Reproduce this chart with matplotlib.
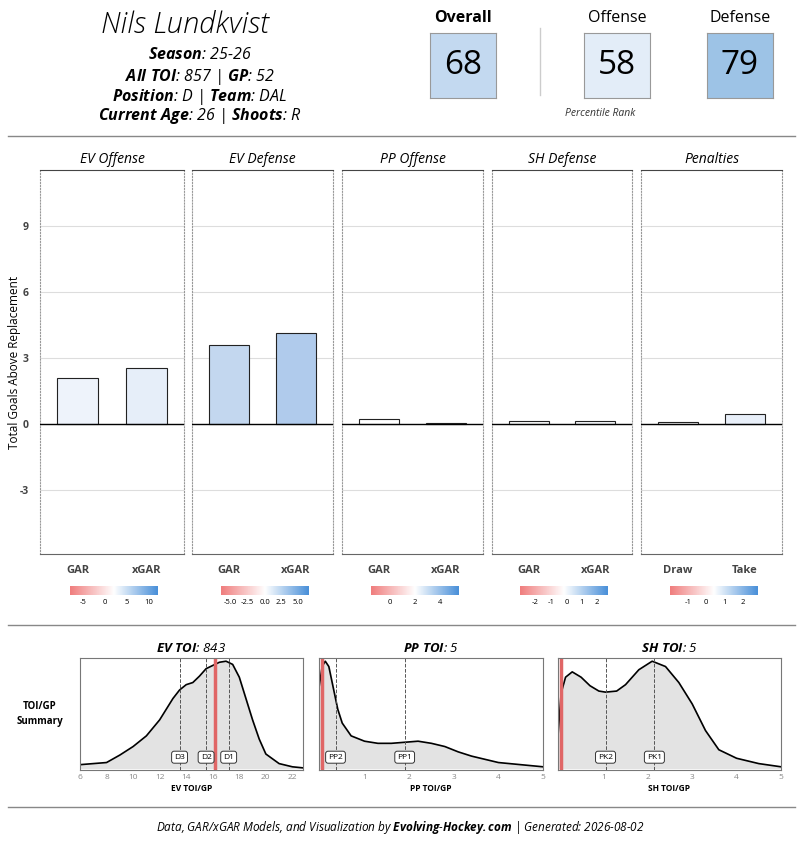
import matplotlib.pyplot as plt
import numpy as np
from matplotlib.colors import LinearSegmentedColormap

plt.rcParams['font.family'] = ['Open Sans', 'DejaVu Sans']
plt.rcParams['mathtext.fontset'] = 'custom'
plt.rcParams['mathtext.bf'] = 'Open Sans:bold:italic'
plt.rcParams['mathtext.rm'] = 'Open Sans:italic'
plt.rcParams['mathtext.it'] = 'Open Sans:italic'

# ---- data ----
panels = ['EV Offense', 'EV Defense', 'PP Offense', 'SH Defense', 'Penalties']
bar_labels = [['GAR', 'xGAR']] * 4 + [['Draw', 'Take']]
bar_values = [[2.1, 2.55], [3.6, 4.15], [0.25, 0.05], [0.15, 0.15], [0.1, 0.45]]
bar_colors = [['#eef3fb', '#e6eef9'], ['#c3d7ef', '#b0cbec'], ['#ffffff', '#ffffff'],
              ['#fafbfd', '#f6f8fc'], ['#fbfbfd', '#e8eff9']]
cbar_ticks = [[-5, 0, 5, 10], [-5.0, -2.5, 0.0, 2.5, 5.0], [0, 2, 4], [-2, -1, 0, 1, 2], [-1, 0, 1, 2]]
cbar_ranges = [(-8, 12), (-6.5, 6.5), (-1.5, 5.5), (-3, 2.7), (-2, 2.8)]
cbar_fmt = ['{:g}', '{:.1f}', '{:g}', '{:g}', '{:g}']

ranks = [('Overall', 68, '#c3d9f0'), ('Offense', 58, '#e3edf8'), ('Defense', 79, '#9dc3e6')]

ev_x = [6, 7, 8, 9, 10, 11, 12, 13, 13.5, 14, 14.5, 15, 15.5, 16, 16.5, 17, 17.5, 18, 18.5, 19, 19.5, 20, 21, 22, 22.8]
ev_y = [0.03, 0.04, 0.05, 0.12, 0.2, 0.3, 0.45, 0.65, 0.73, 0.78, 0.8, 0.86, 0.93, 0.96, 0.99, 1.0, 0.97, 0.85, 0.65, 0.45, 0.27, 0.13, 0.04, 0.01, 0.0]
pp_x = [-0.02, 0.05, 0.12, 0.2, 0.3, 0.4, 0.5, 0.7, 1.0, 1.3, 1.6, 1.9, 2.2, 2.5, 2.8, 3.1, 3.4, 3.7, 4.0, 4.5, 5.0]
pp_y = [0.75, 0.95, 1.0, 0.95, 0.75, 0.55, 0.42, 0.3, 0.25, 0.23, 0.23, 0.24, 0.25, 0.23, 0.2, 0.15, 0.11, 0.08, 0.05, 0.03, 0.01]
sh_x = [-0.02, 0.05, 0.15, 0.3, 0.5, 0.7, 0.9, 1.05, 1.3, 1.5, 1.8, 2.1, 2.4, 2.7, 3.0, 3.3, 3.6, 4.0, 4.5, 5.0]
sh_y = [0.3, 0.7, 0.85, 0.9, 0.85, 0.77, 0.72, 0.71, 0.72, 0.78, 0.92, 1.0, 0.95, 0.8, 0.6, 0.35, 0.17, 0.09, 0.04, 0.01]

dens = [
    ('EV TOI', 843, ev_x, ev_y, (6, 22.8), [6, 8, 10, 12, 14, 16, 18, 20, 22], 16.2,
     [('D3', 13.5), ('D2', 15.5), ('D1', 17.2)], 'EV TOI/GP'),
    ('PP TOI', 5, pp_x, pp_y, (-0.02, 5), [1, 2, 3, 4, 5], 0.05,
     [('PP2', 0.35), ('PP1', 1.9)], 'PP TOI/GP'),
    ('SH TOI', 5, sh_x, sh_y, (-0.02, 5), [1, 2, 3, 4, 5], 0.05,
     [('PK2', 1.05), ('PK1', 2.15)], 'SH TOI/GP'),
]

W, H = 800, 850
fig = plt.figure(figsize=(8, 8.5), dpi=100)


def ax_px(x0, y0, x1, y1):
    return fig.add_axes([x0 / W, 1 - y1 / H, (x1 - x0) / W, (y1 - y0) / H])


def bold(s):
    return r'$\bf{' + s.replace(' ', r'\ ') + '}$'


# ---- header ----
fig.text(185 / W, 1 - 25 / H, 'Nils Lundkvist', ha='center', va='center', fontsize=21, style='italic', fontweight='light')
hdr = [(55, [('Season', ': 25-26')]),
       (77, [('All TOI', ': 857 | '), ('GP', ': 52')]),
       (97, [('Position', ': D | '), ('Team', ': DAL')]),
       (116, [('Current Age', ': 26 | '), ('Shoots', ': R')])]
for y, parts in hdr:
    s = ''.join(bold(b) + t for b, t in parts)
    fig.text(200 / W, 1 - y / H, s, ha='center', va='center', fontsize=11.5, style='italic')

for (name, val, col), x0 in zip(ranks, [430, 584, 707]):
    a = ax_px(x0, 33, x0 + 66, 98)
    a.set_facecolor(col)
    a.set_xticks([]); a.set_yticks([])
    for s in a.spines.values():
        s.set_color('#999999')
    a.text(0.5, 0.5, str(val), ha='center', va='center', fontsize=24, transform=a.transAxes)
    fig.text((x0 + 33) / W, 1 - 18 / H, name, ha='center', va='center', fontsize=11.5,
             fontweight='bold' if name == 'Overall' else 'normal')
fig.text(600 / W, 1 - 114 / H, 'Percentile Rank', ha='center', va='center', fontsize=7.5, style='italic', color='#333333')
fig.add_artist(plt.Line2D([540 / W, 540 / W], [1 - 28 / H, 1 - 95 / H], color='#cccccc', lw=1))

for y in [136, 625, 807]:
    fig.add_artist(plt.Line2D([8 / W, 795 / W], [1 - y / H, 1 - y / H], color='#888888', lw=1))

# ---- bar panels ----
cmap = LinearSegmentedColormap.from_list('rb', ['#f07e7e', '#ffffff', '#4a90d9'])
xs = [(40, 184), (192, 333), (342, 483), (492, 632), (641, 782)]
fig.text(15 / W, 1 - 362 / H, 'Total Goals Above Replacement', rotation=90, ha='center', va='center', fontsize=8.5)
for i, (x0, x1) in enumerate(xs):
    a = ax_px(x0, 170, x1, 554)
    a.bar([0, 1], bar_values[i], width=0.6, color=bar_colors[i], edgecolor='#222222', lw=0.8, zorder=3)
    a.axhline(0, color='black', lw=1, zorder=4)
    a.set_ylim(-5.9, 11.55)
    a.set_xlim(-0.55, 1.55)
    a.set_yticks([-3, 0, 3, 6, 9])
    a.grid(axis='y', color='#dddddd', lw=0.8)
    a.set_xticks([0, 1])
    a.set_xticklabels(bar_labels[i], fontsize=8, fontweight='bold', color='#444444')
    a.tick_params(length=0, pad=8)
    for s in ['left', 'right']:
        a.spines[s].set_linestyle(':')
        a.spines[s].set_color('#999999')
    a.spines['bottom'].set_color('#666666')
    a.spines['top'].set_color('#444444')
    a.set_title(panels[i], fontsize=10, style='italic', pad=5)
    if i == 0:
        a.set_yticklabels(['-3', '0', '3', '6', '9'], fontsize=7.5, fontweight='bold', color='#444444')
    else:
        a.set_yticklabels([])
    # colorbar
    cx = (x0 + x1) / 2
    ca = ax_px(cx - 42, 586, cx + 46, 595)
    lo, hi = cbar_ranges[i]
    ca.imshow(np.linspace(0, 1, 100)[None, :], aspect='auto', cmap=cmap,
              vmin=0, vmax=1, extent=(lo, hi, 0, 1))
    ca.set_yticks([])
    ca.set_xticks(cbar_ticks[i])
    ca.set_xticklabels([cbar_fmt[i].format(t) for t in cbar_ticks[i]], fontsize=5.5)
    ca.tick_params(length=0, pad=3)
    for s in ca.spines.values():
        s.set_visible(False)

# ---- density panels ----
fig.text(40 / W, 1 - 714 / H, 'TOI/GP\nSummary', ha='center', va='center', fontsize=7, fontweight='bold', linespacing=1.6)
dx = [(80, 303), (319, 543), (558, 781)]
for (title, tv, x, y, xl, ticks, me, lines, xlab), (x0, x1) in zip(dens, dx):
    a = ax_px(x0, 658, x1, 770)
    a.fill_between(x, y, 0, color='#e3e3e3')
    a.plot(x, y, color='black', lw=1.2)
    a.set_xlim(*xl)
    a.set_ylim(-0.02, 1.03)
    for lab, v in lines:
        a.axvline(v, color='#555555', ls='--', lw=0.7)
        a.text(v, 0.1, lab, ha='center', va='center', fontsize=6,
               bbox=dict(boxstyle='round,pad=0.3', fc='white', ec='#333333', lw=0.7))
    a.axvline(me, color='#e06666', lw=2.5)
    a.set_yticks([])
    a.set_xticks(ticks)
    a.set_xticklabels([str(t) for t in ticks], fontsize=6, color='#888888')
    a.tick_params(length=0, pad=3)
    a.set_xlabel(xlab, fontsize=6, fontweight='bold', labelpad=2)
    for s in a.spines.values():
        s.set_color('#777777')
    a.set_title(bold(title) + ': ' + str(tv), fontsize=9.5, style='italic', pad=4)

fig.text(400 / W, 1 - 827 / H,
         'Data, GAR/xGAR Models, and Visualization by ' + bold('Evolving') + '-' + bold('Hockey.com')
         + ' | Generated: 2026-08-02',
         ha='center', va='center', fontsize=8.5, style='italic')

fig.savefig('out.png', dpi=100)
